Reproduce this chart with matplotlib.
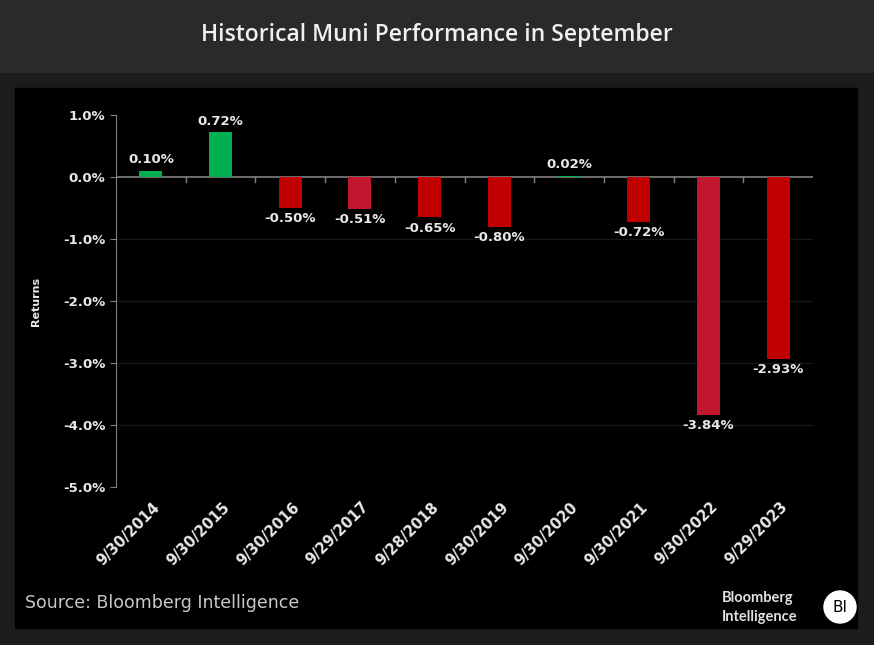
import matplotlib.pyplot as plt
from matplotlib.patches import Rectangle, Ellipse

dates = ["9/30/2014", "9/30/2015", "9/30/2016", "9/29/2017", "9/28/2018",
         "9/30/2019", "9/30/2020", "9/30/2021", "9/30/2022", "9/29/2023"]
returns = [0.10, 0.72, -0.50, -0.51, -0.65, -0.80, 0.02, -0.72, -3.84, -2.93]
colors = ["#00b050", "#00b050", "#c00000", "#c0172e", "#c00000",
          "#c00000", "#00b050", "#c00000", "#c0172e", "#c00000"]
yticks = [1, 0, -1, -2, -3, -4, -5]

W, H = 874, 645
fig = plt.figure(figsize=(W / 100, H / 100), dpi=100)
fig.patch.set_facecolor("#1c1c1c")

# header band and black chart panel
fig.add_artist(Rectangle((0, 1 - 72 / H), 1, 72 / H, transform=fig.transFigure,
                         color="#2a2a2a", zorder=0))
fig.add_artist(Rectangle((15 / W, 1 - 628 / H), (857 - 15) / W, (628 - 88) / H,
                         transform=fig.transFigure, color="black", zorder=0))
fig.text(0.5, 1 - 35 / H, "Historical Muni Performance in September",
         ha="center", va="center", color="#f0f0f0", fontsize=16.5,
         family="Open Sans", fontweight="semibold")

ax = fig.add_axes([116 / W, 1 - 487 / H, (813 - 116) / W, (487 - 115) / H])
ax.set_facecolor("black")
ax.patch.set_alpha(0)

x = list(range(len(dates)))
ax.bar(x, returns, width=0.33, color=colors, zorder=3)
for xi, v in zip(x, returns):
    if v >= 0:
        ax.text(xi, v + 0.07, f"{v:.2f}%", ha="center", va="bottom",
                color="#e8e8e8", fontsize=9.5, fontweight="bold")
    else:
        ax.text(xi, v - 0.07, f"{v:.2f}%", ha="center", va="top",
                color="#e8e8e8", fontsize=9.5, fontweight="bold")

ax.set_xlim(-0.5, len(dates) - 0.5)
ax.set_ylim(-5, 1)
ax.set_yticks(yticks)
ax.set_yticklabels([f"{t:.1f}%" for t in yticks], color="#e8e8e8",
                   fontsize=9.5, fontweight="bold")
for t in yticks:
    if t < 0:
        ax.axhline(t, color="#181818", lw=1, zorder=1)
ax.axhline(0, color="#808080", lw=1.2, zorder=2)

ax.set_xticks([])
# tick marks on the zero line
for i in range(1, len(dates)):
    ax.plot([i - 0.5, i - 0.5], [0, -0.08], color="#808080", lw=1, zorder=2)
for xi, d in zip(x, dates):
    ax.text(xi + 0.02, -5.2, d, rotation=45, ha="right", va="top",
            rotation_mode="anchor", color="#e8e8e8", fontsize=10.5,
            fontweight="bold")
ax.tick_params(axis="y", length=4, color="#808080")

for side in ["top", "right", "bottom"]:
    ax.spines[side].set_visible(False)
ax.spines["left"].set_color("#808080")
ax.set_ylabel("Returns", color="#e8e8e8", fontsize=8, fontweight="bold",
              labelpad=16)

fig.text(25 / W, 1 - 603 / H, "Source: Bloomberg Intelligence", ha="left",
         va="center", color="#c8c8c8", fontsize=12.5)
fig.text(722 / W, 1 - 598 / H, "Bloomberg", ha="left", va="center",
         color="#e0e0e0", fontsize=10.5, family="Lato", fontweight="bold")
fig.text(722 / W, 1 - 617 / H, "Intelligence", ha="left", va="center",
         color="#e0e0e0", fontsize=10.5, family="Lato", fontweight="bold")
fig.add_artist(Ellipse((840 / W, 1 - 607 / H), 32 / W, 32 / H,
                       transform=fig.transFigure, color="white", zorder=5))
fig.text(840 / W, 1 - 607 / H, "BI", ha="center", va="center", color="black",
         fontsize=11, zorder=6)

fig.savefig("out.png", dpi=100, facecolor=fig.get_facecolor())
